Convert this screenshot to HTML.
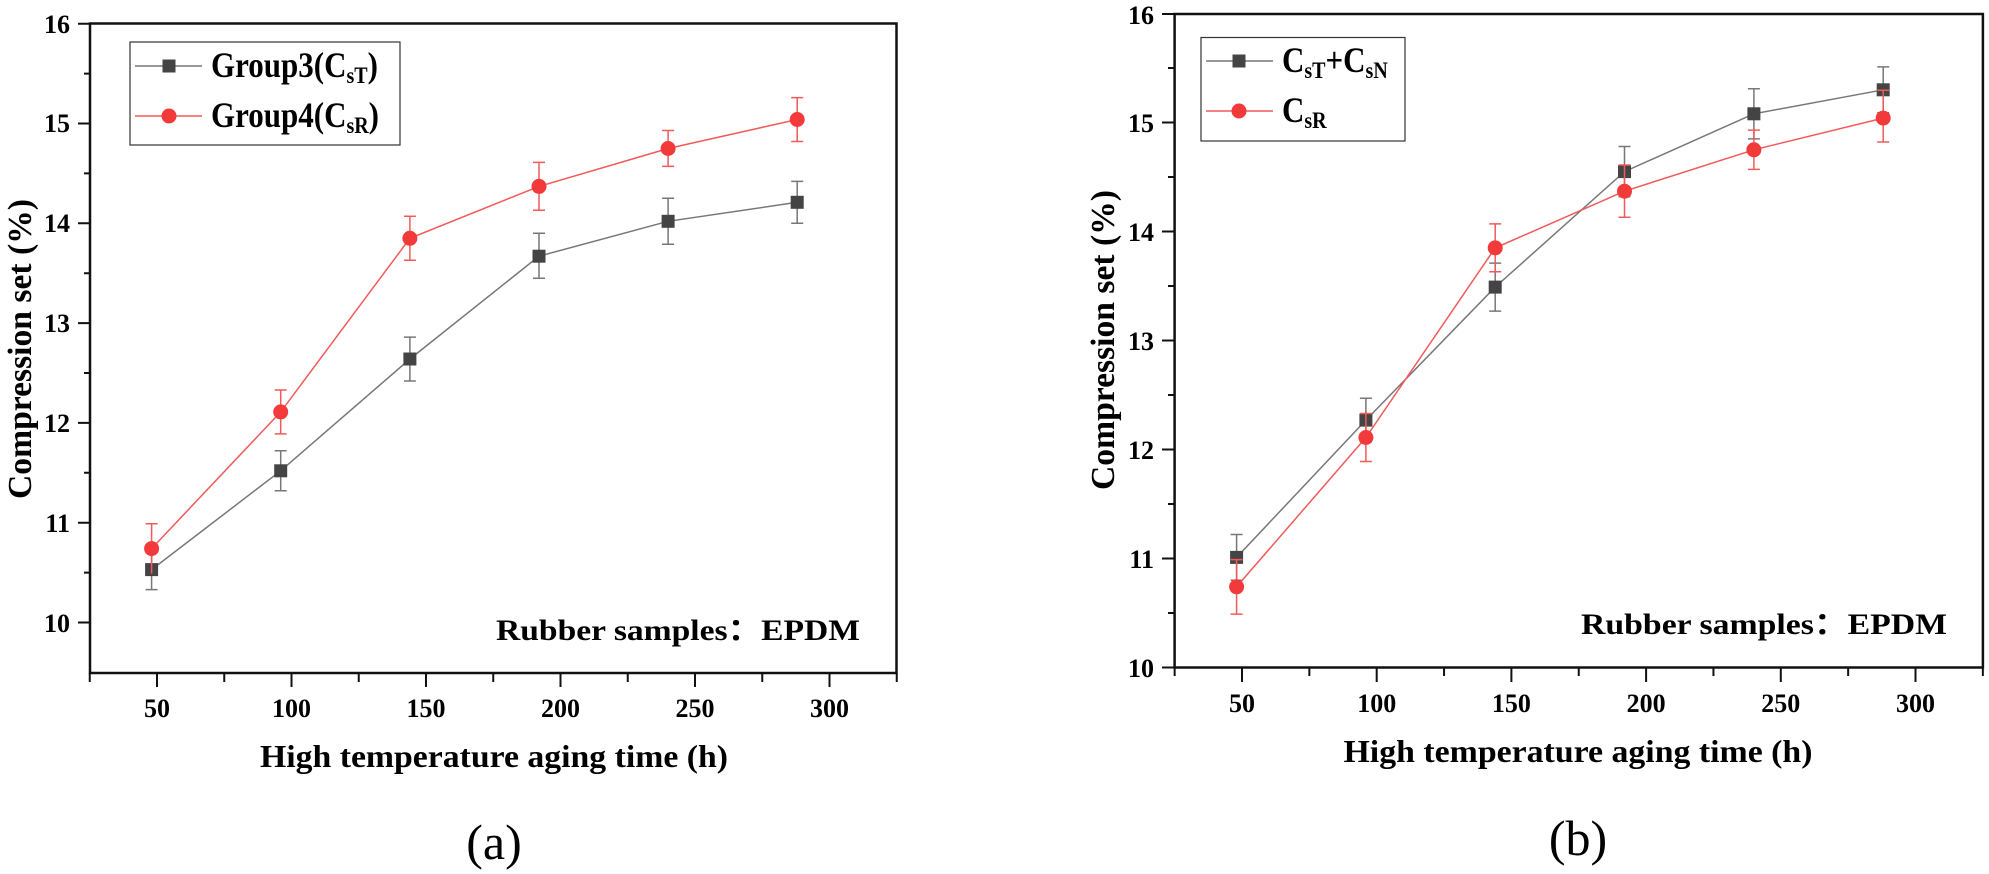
<!DOCTYPE html>
<html><head><meta charset="utf-8"><style>body{margin:0;background:#fff}svg{display:block}</style></head><body>
<svg width="1989" height="874" viewBox="0 0 1989 874" xmlns="http://www.w3.org/2000/svg" font-family="'Liberation Serif',serif" font-weight="bold">
<rect width="1989" height="874" fill="#fff"/>
<!-- LEFT PLOT -->
<rect x="90" y="23.5" width="806.5" height="649.5" fill="none" stroke="#111" stroke-width="2.5"/>
<path stroke="#111" stroke-width="2" d="M78 622.5H90M78 522.7H90M78 422.9H90M78 323.1H90M78 223.3H90M78 123.5H90M78 23.7H90M84 572.6H90M84 472.8H90M84 373H90M84 273.2H90M84 173.4H90M84 73.6H90
M89.75 673V682M157 673V687M224.25 673V682M291.5 673V687M358.75 673V682M426 673V687M493.25 673V682M560.5 673V687M627.75 673V682M695 673V687M762.25 673V682M829.5 673V687M896.75 673V682"/>
<g font-size="26" text-anchor="end">
<text x="70" y="632">10</text><text x="70" y="532">11</text><text x="70" y="432">12</text><text x="70" y="332">13</text><text x="70" y="232">14</text><text x="70" y="132">15</text><text x="70" y="33">16</text></g>
<g font-size="26" text-anchor="middle">
<text x="157" y="717">50</text><text x="291.5" y="717">100</text><text x="426" y="717">150</text><text x="560.5" y="717">200</text><text x="695" y="717">250</text><text x="829.5" y="717">300</text></g>
<text x="494" y="767" font-size="32" text-anchor="middle" textLength="468" lengthAdjust="spacingAndGlyphs">High temperature aging time (h)</text>
<text transform="translate(31,349) rotate(-90)" font-size="34" text-anchor="middle" textLength="300" lengthAdjust="spacingAndGlyphs">Compression set (%)</text>
<text x="496" y="640" font-size="30" textLength="364" lengthAdjust="spacingAndGlyphs">Rubber samples：EPDM</text>
<text x="494" y="859" font-size="50" font-weight="normal" text-anchor="middle">(a)</text>
<g stroke="#777" stroke-width="1.5" fill="none">
<path d="M151.6 552.6V589.6M145.6 552.6H157.6M145.6 589.6H157.6M280.7 450.8V490.8M274.7 450.8H286.7M274.7 490.8H286.7M409.9 337.1V381M403.9 337.1H415.9M403.9 381H415.9M539 233.3V278.2M533 233.3H545M533 278.2H545M668.1 198.3V244.3M662.1 198.3H674.1M662.1 244.3H674.1M797.2 181.4V223.3M791.2 181.4H803.2M791.2 223.3H803.2"/>
<polyline points="151.6,569.6 280.7,470.8 409.9,359 539,256.2 668.1,221.3 797.2,202.3"/></g>
<g fill="#444"><rect x="145.1" y="563.1" width="13" height="13"/><rect x="274.2" y="464.3" width="13" height="13"/><rect x="403.4" y="352.5" width="13" height="13"/><rect x="532.5" y="249.7" width="13" height="13"/><rect x="661.6" y="214.8" width="13" height="13"/><rect x="790.7" y="195.8" width="13" height="13"/></g>
<g stroke="#f25a5a" stroke-width="1.5" fill="none">
<path d="M151.6 523.7V573.6M145.6 523.7H157.6M280.7 390V433.9M274.7 390H286.7M274.7 433.9H286.7M409.9 216.3V260.2M403.9 216.3H415.9M403.9 260.2H415.9M539 162.4V210.3M533 162.4H545M533 210.3H545M668.1 130.5V166.4M662.1 130.5H674.1M662.1 166.4H674.1M797.2 97.6V141.5M791.2 97.6H803.2M791.2 141.5H803.2"/>
<polyline points="151.6,548.6 280.7,411.9 409.9,238.3 539,186.4 668.1,148.5 797.2,119.5"/></g>
<g fill="#f23a3a"><circle cx="151.6" cy="548.6" r="7.5"/><circle cx="280.7" cy="411.9" r="7.5"/><circle cx="409.9" cy="238.3" r="7.5"/><circle cx="539" cy="186.4" r="7.5"/><circle cx="668.1" cy="148.5" r="7.5"/><circle cx="797.2" cy="119.5" r="7.5"/></g>
<rect x="130" y="42" width="270" height="103" fill="#fff" stroke="#333" stroke-width="1.2"/>
<line x1="135" y1="66" x2="202" y2="66" stroke="#777" stroke-width="1.5"/><rect x="162.5" y="59.5" width="13" height="13" fill="#444"/>
<line x1="135" y1="116" x2="202" y2="116" stroke="#f25a5a" stroke-width="1.5"/><circle cx="169" cy="116" r="7.5" fill="#f23a3a"/>
<text transform="translate(211,77) scale(1,1.15)" font-size="31">Group3(C<tspan font-size="20" dy="5">sT</tspan><tspan dy="-5">)</tspan></text>
<text transform="translate(211,127) scale(1,1.15)" font-size="31">Group4(C<tspan font-size="20" dy="5">sR</tspan><tspan dy="-5">)</tspan></text>
<!-- RIGHT PLOT -->
<rect x="1174.6" y="14" width="808.3" height="653.5" fill="none" stroke="#111" stroke-width="2.5"/>
<path stroke="#111" stroke-width="2" d="M1162 667.5H1174.6M1162 558.5H1174.6M1162 449.5H1174.6M1162 340.5H1174.6M1162 231.5H1174.6M1162 122.5H1174.6M1162 14H1174.6M1168 613H1174.6M1168 504H1174.6M1168 395H1174.6M1168 286H1174.6M1168 177H1174.6M1168 68H1174.6
M1174.65 667.5V676M1242 667.5V682M1309.35 667.5V676M1376.7 667.5V682M1444.05 667.5V676M1511.4 667.5V682M1578.75 667.5V676M1646.1 667.5V682M1713.45 667.5V676M1780.8 667.5V682M1848.15 667.5V676M1915.5 667.5V682M1982.85 667.5V676"/>
<g font-size="26" text-anchor="end">
<text x="1154" y="677">10</text><text x="1154" y="568">11</text><text x="1154" y="459">12</text><text x="1154" y="350">13</text><text x="1154" y="241">14</text><text x="1154" y="132">15</text><text x="1154" y="24">16</text></g>
<g font-size="26" text-anchor="middle">
<text x="1242" y="712">50</text><text x="1376.7" y="712">100</text><text x="1511.4" y="712">150</text><text x="1646.1" y="712">200</text><text x="1780.8" y="712">250</text><text x="1915.5" y="712">300</text></g>
<text x="1578" y="762" font-size="32" text-anchor="middle" textLength="469" lengthAdjust="spacingAndGlyphs">High temperature aging time (h)</text>
<text transform="translate(1114,340) rotate(-90)" font-size="34" text-anchor="middle" textLength="300" lengthAdjust="spacingAndGlyphs">Compression set (%)</text>
<text x="1581" y="634" font-size="30" textLength="366" lengthAdjust="spacingAndGlyphs">Rubber samples：EPDM</text>
<text x="1578" y="855" font-size="50" font-weight="normal" text-anchor="middle">(b)</text>
<g stroke="#777" stroke-width="1.5" fill="none">
<path d="M1236.6 534.5V580.3M1230.6 534.5H1242.6M1230.6 580.3H1242.6M1365.9 398.3V441.9M1359.9 398.3H1371.9M1359.9 441.9H1371.9M1495.2 263.1V311.1M1489.2 263.1H1501.2M1489.2 311.1H1501.2M1624.5 146.5V196.6M1618.5 146.5H1630.5M1618.5 196.6H1630.5M1753.9 88.7V138.9M1747.9 88.7H1759.9M1747.9 138.9H1759.9M1883.2 66.9V112.7M1877.2 66.9H1889.2M1877.2 112.7H1889.2"/>
<polyline points="1236.6,557.4 1365.9,420.1 1495.2,287.1 1624.5,171.6 1753.9,113.8 1883.2,89.8"/></g>
<g fill="#444"><rect x="1230.1" y="550.9" width="13" height="13"/><rect x="1359.4" y="413.6" width="13" height="13"/><rect x="1488.7" y="280.6" width="13" height="13"/><rect x="1618" y="165.1" width="13" height="13"/><rect x="1747.4" y="107.3" width="13" height="13"/><rect x="1876.7" y="83.3" width="13" height="13"/></g>
<g stroke="#f25a5a" stroke-width="1.5" fill="none">
<path d="M1236.6 559.6V614.1M1230.6 559.6H1242.6M1230.6 614.1H1242.6M1365.9 413.5V461.5M1359.9 413.5H1371.9M1359.9 461.5H1371.9M1495.2 223.9V271.8M1489.2 223.9H1501.2M1489.2 271.8H1501.2M1624.5 165V217.3M1618.5 165H1630.5M1618.5 217.3H1630.5M1753.9 130.1V169.4M1747.9 130.1H1759.9M1747.9 169.4H1759.9M1883.2 90.2V142M1877.2 90.2H1889.2M1877.2 142H1889.2"/>
<polyline points="1236.6,586.8 1365.9,437.5 1495.2,247.9 1624.5,191.2 1753.9,149.8 1883.2,118.1"/></g>
<g fill="#f23a3a"><circle cx="1236.6" cy="586.8" r="7.5"/><circle cx="1365.9" cy="437.5" r="7.5"/><circle cx="1495.2" cy="247.9" r="7.5"/><circle cx="1624.5" cy="191.2" r="7.5"/><circle cx="1753.9" cy="149.8" r="7.5"/><circle cx="1883.2" cy="118.1" r="7.5"/></g>
<rect x="1201" y="37.5" width="204" height="103.5" fill="#fff" stroke="#333" stroke-width="1.2"/>
<line x1="1206" y1="61" x2="1273" y2="61" stroke="#777" stroke-width="1.5"/><rect x="1232.5" y="54.5" width="13" height="13" fill="#444"/>
<line x1="1206" y1="111" x2="1273" y2="111" stroke="#f25a5a" stroke-width="1.5"/><circle cx="1239" cy="111" r="7.5" fill="#f23a3a"/>
<text transform="translate(1282,72) scale(1,1.15)" font-size="31">C<tspan font-size="20" dy="5">sT</tspan><tspan dy="-5">+C</tspan><tspan font-size="20" dy="5">sN</tspan></text>
<text transform="translate(1282,122) scale(1,1.15)" font-size="31">C<tspan font-size="20" dy="5">sR</tspan></text>
</svg>
</body></html>
